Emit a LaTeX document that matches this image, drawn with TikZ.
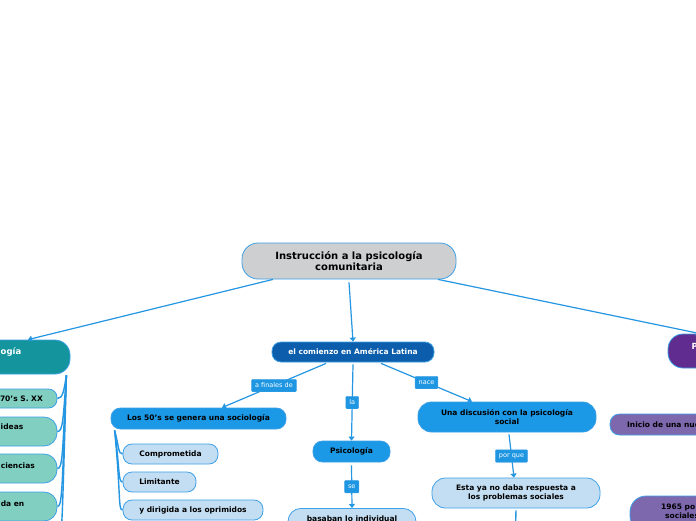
\documentclass[tikz,border=0pt]{standalone}
\usepackage{fontspec}
\setmainfont{DejaVu Sans}
\usetikzlibrary{arrows.meta}
\definecolor{conn}{RGB}{36,150,226}
\definecolor{bord}{RGB}{62,160,230}
\definecolor{titlefill}{RGB}{205,207,209}
\definecolor{tealdark}{RGB}{20,149,158}
\definecolor{teallight}{RGB}{128,207,193}
\definecolor{dblue}{RGB}{12,94,172}
\definecolor{mblue}{RGB}{27,152,230}
\definecolor{lblue}{RGB}{195,222,242}
\definecolor{pdark}{RGB}{96,44,143}
\definecolor{plight}{RGB}{125,104,174}
\definecolor{lblfill}{RGB}{30,150,226}
\begin{document}
\begin{tikzpicture}[x=1pt,y=-1pt,
  box/.style={draw=bord, line width=0.8pt, inner sep=0pt, align=center,
    font=\fontsize{7.5}{9.3}\selectfont\bfseries},
  bigbox/.style={box, font=\fontsize{10}{11}\selectfont\bfseries},
  frag/.style={inner sep=0pt, font=\fontsize{7.5}{9.3}\selectfont\bfseries},
  bigfrag/.style={inner sep=0pt, font=\fontsize{8.5}{10}\selectfont\bfseries, text=white},
  lbl/.style={fill=lblfill, draw=bord, line width=0.4pt, text=white,
    font=\fontsize{6.5}{7}\selectfont, inner xsep=3.5pt, inner ysep=0pt,
    minimum height=12.5pt, rounded corners=1pt},
  conline/.style={draw=conn, line width=1.2pt, -{Triangle[width=6pt,length=4pt]}},
  treeline/.style={draw=conn, line width=1.4pt}
]
\useasboundingbox (0,0) rectangle (696,520);
\clip (0,0) rectangle (696,520);
\fill[white] (0,0) rectangle (696,520);

% central title
\node[bigbox, fill=titlefill, minimum width=214pt, minimum height=36pt, rounded corners=16pt] (title) at (349,261) {Instrucción a la psicología\\comunitaria};

% left teal branch
\node[box, fill=tealdark, minimum width=170pt, minimum height=34pt, rounded corners=15pt] (teal) at (-15,357) {};
\node[bigfrag, anchor=east] (tealtxt) at (21.5,352) {ogía};
\node[box, fill=teallight, minimum width=117pt, minimum height=19pt, rounded corners=8.5pt] (t1) at (-1.5,398.5) {};
\node[frag, anchor=east] (t1txt) at (43,399) {70's S. XX};
\node[box, fill=teallight, minimum width=117pt, minimum height=29pt, rounded corners=13pt] (t2) at (-1.5,431.5) {};
\node[frag, anchor=east] (t2txt) at (23.5,427) {ideas};
\node[box, fill=teallight, minimum width=117pt, minimum height=29pt, rounded corners=13pt] (t3) at (-1.5,468.5) {};
\node[frag, anchor=east] (t3txt) at (35,466) {ciencias};
\node[box, fill=teallight, minimum width=117pt, minimum height=29pt, rounded corners=13pt] (t4) at (-1.5,506.5) {};
\node[frag, anchor=east] (t4txt) at (24.5,503.5) {da en};
\coordinate (tealmore) at (57,548);

% center branch
\node[box, fill=dblue, text=white, minimum width=162pt, minimum height=20pt, rounded corners=9pt] (comienzo) at (353,352) {el comienzo en América Latina};
\node[box, fill=mblue, minimum width=175pt, minimum height=21pt, rounded corners=9.5pt] (los) at (198.5,418.5) {Los 50's se genera una sociología};
\node[box, fill=lblue, minimum width=95pt, minimum height=20pt, rounded corners=9pt] (c1) at (170.5,454) {Comprometida};
\node[box, fill=lblue, minimum width=73pt, minimum height=20pt, rounded corners=9pt] (c2) at (159.5,482) {Limitante};
\node[box, fill=lblue, minimum width=140pt, minimum height=20pt, rounded corners=9pt] (c3) at (193,510) {y dirigida a los oprimidos};
\node[box, fill=mblue, minimum width=77pt, minimum height=21pt, rounded corners=9.5pt] (psi) at (351.5,451.5) {Psicología};
\node[box, fill=lblue, minimum width=128pt, minimum height=30pt, rounded corners=13pt, anchor=north] (bas) at (352,508) {};
\node[frag, anchor=north] (bastxt) at (352,515.5) {basaban lo individual};
\node[box, fill=mblue, minimum width=178pt, minimum height=30pt, rounded corners=13.5pt] (una) at (507,417) {Una discusión con la psicología\\social};
\node[box, fill=lblue, minimum width=168pt, minimum height=30pt, rounded corners=13.5pt] (esta) at (516,493) {Esta ya no daba respuesta a\\los problemas sociales};
\coordinate (estamore) at (515,545);

% right purple branch
\node[box, fill=pdark, minimum width=132pt, minimum height=34pt, rounded corners=15pt] (purple) at (734,351) {};
\node[bigfrag, anchor=west] (purpletxt) at (691.5,346) {P};
\node[box, fill=plight, minimum width=150pt, minimum height=21pt, rounded corners=9.5pt] (p1) at (685,424.5) {};
\node[frag, anchor=west] (p1txt) at (627,425) {Inicio de una nue};
\node[box, fill=plight, minimum width=150pt, minimum height=36pt, rounded corners=16pt] (p2) at (705,514) {};
\node[frag, anchor=west] (p2txta) at (661,507) {1965 po};
\node[frag, anchor=west] (p2txtb) at (665,516) {sociales};

% connectors from title
\draw[conline] ([xshift=-76pt]title.south) -- ([xshift=43pt]teal.north);
\draw[conline] ([yshift=-3pt]title.south) -- (comienzo.north);
\draw[conline] ([xshift=89pt]title.south) -- ([xshift=-34pt]purple.north);

% connectors from comienzo
\draw[conline] ([xshift=-27pt,yshift=-1pt]comienzo.south) -- node[lbl, midway] (l1) {a finales de} ([xshift=23.5pt]los.north);
\draw[conline] ([yshift=-2pt]comienzo.south) -- node[lbl, midway] (l2) {la} (psi.north);
\draw[conline] ([xshift=28pt,yshift=-1pt]comienzo.south) -- node[lbl, midway] (l3) {nace} ([xshift=-35pt]una.north);

\draw[conline] ([yshift=-3pt]psi.south) -- node[lbl, midway] (l4) {se} (bas.north);
\draw[conline] ([xshift=2pt,yshift=-2pt]una.south) -- node[lbl, midway] (l5) {por que} ([xshift=-2pt]esta.north);
\draw[treeline] ([yshift=-2pt]esta.south) -- (estamore);

% tree connectors (Los 50's)
\draw[treeline] ([xshift=4pt,yshift=-1pt]los.south west) .. controls (119,446) and (118,454) .. (c1.west);
\draw[treeline] ([xshift=4pt,yshift=-1pt]los.south west) .. controls (120,470) and (118,482) .. (c2.west);
\draw[treeline] ([xshift=4pt,yshift=-1pt]los.south west) .. controls (121,496) and (118,510) .. (c3.west);

% tree connectors (teal)
\draw[treeline] ([xshift=-4pt,yshift=-1pt]teal.south east) .. controls (64,390) and (63,398.5) .. (t1.east);
\draw[treeline] ([xshift=-4pt,yshift=-1pt]teal.south east) .. controls (63,420) and (63,431.5) .. (t2.east);
\draw[treeline] ([xshift=-4pt,yshift=-1pt]teal.south east) .. controls (62.5,456) and (62.5,468.5) .. (t3.east);
\draw[treeline] ([xshift=-4pt,yshift=-1pt]teal.south east) .. controls (62,494) and (62,506.5) .. (t4.east);
\draw[treeline] ([xshift=-4pt,yshift=-1pt]teal.south east) .. controls (62,530) and (62,548) .. (tealmore);
\end{tikzpicture}
\end{document}
